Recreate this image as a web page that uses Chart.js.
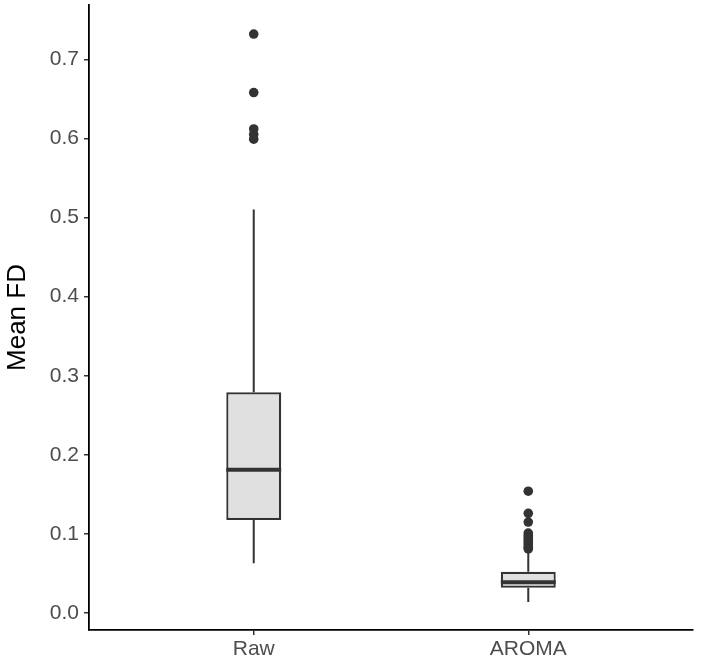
<!DOCTYPE html>
<html>
<head>
<meta charset="utf-8">
<script src="https://cdn.jsdelivr.net/npm/chart.js@4.4.1/dist/chart.umd.min.js"></script>
<style>
  html, body { margin: 0; padding: 0; background: #ffffff; }
  #wrap { width: 701px; height: 663px; }
</style>
</head>
<body>
<div id="wrap"><canvas id="c" width="701" height="663"></canvas></div>
<script>
// ---- data ----
const categories = ["Raw", "AROMA"];
const whiskerLow = [0.063, 0.014];
const q1 = [0.1175, 0.032];
const median = [0.181, 0.039];
const q3 = [0.279, 0.052];
const whiskerHigh = [0.510, 0.076];
const outliersRaw = [0.732, 0.658, 0.612, 0.605, 0.599];
const outliersAroma = [0.154, 0.126, 0.115, 0.101, 0.098, 0.095, 0.092, 0.089, 0.086, 0.083, 0.081];
const yTicks = [0.0, 0.1, 0.2, 0.3, 0.4, 0.5, 0.6, 0.7];

const font = "'Liberation Sans', Arial, Helvetica, sans-serif";
const dark = '#333333';

const boxData = categories.map((c, i) => ({ x: i + 1, y: [q1[i], q3[i]] }));
const outlierData = [
  ...outliersRaw.map(v => ({ x: 1, y: v })),
  ...outliersAroma.map(v => ({ x: 2, y: v }))
];

const boxPlugin = {
  id: 'boxExtras',
  afterDatasetsDraw(chart) {
    const ctx = chart.ctx;
    const xs = chart.scales.x, ys = chart.scales.y;
    ctx.save();
    ctx.strokeStyle = dark;
    categories.forEach((c, i) => {
      const xc = xs.getPixelForValue(i + 1);
      const half = (xs.getPixelForValue(i + 1.1) - xs.getPixelForValue(i + 0.9)) / 2;
      // whiskers
      ctx.lineWidth = 2;
      ctx.beginPath();
      ctx.moveTo(xc, ys.getPixelForValue(q3[i]));
      ctx.lineTo(xc, ys.getPixelForValue(whiskerHigh[i]));
      ctx.moveTo(xc, ys.getPixelForValue(q1[i]));
      ctx.lineTo(xc, ys.getPixelForValue(whiskerLow[i]));
      ctx.stroke();
      // median
      ctx.lineWidth = 4;
      ctx.beginPath();
      const my = ys.getPixelForValue(median[i]);
      ctx.moveTo(xc - half, my);
      ctx.lineTo(xc + half, my);
      ctx.stroke();
    });
    ctx.restore();
  }
};

new Chart(document.getElementById('c'), {
  type: 'bar',
  data: {
    datasets: [
      {
        type: 'bar',
        data: boxData,
        backgroundColor: '#e0e0e0',
        borderColor: dark,
        borderWidth: 2.2,
        borderSkipped: false,
        categoryPercentage: 1,
        barPercentage: 0.2,
        order: 2
      },
      {
        type: 'scatter',
        data: outlierData,
        backgroundColor: dark,
        borderColor: dark,
        pointRadius: 4.8,
        borderWidth: 0,
        order: 1
      }
    ]
  },
  options: {
    responsive: false,
    animation: false,
    devicePixelRatio: 1,
    layout: { padding: { top: 5, right: 8, left: 0, bottom: 0 } },
    plugins: { legend: { display: false }, tooltip: { enabled: false } },
    scales: {
      x: {
        type: 'linear',
        min: 0.4,
        max: 2.6,
        offset: false,
        afterBuildTicks(scale) { scale.ticks = categories.map((c, i) => ({ value: i + 1 })); },
        afterFit(scale) { scale.height = 33; scale.paddingLeft = 0; scale.paddingRight = 0; },
        ticks: {
          callback: (v) => categories[Math.round(v) - 1],
          color: '#4d4d4d',
          font: { family: font, size: 21 },
          padding: 2,
          maxRotation: 0,
          autoSkip: false
        },
        grid: { offset: false, drawOnChartArea: false, drawTicks: true, tickLength: 5, color: dark, lineWidth: 1.5 },
        border: { display: true, color: '#000000', width: 1.8 }
      },
      y: {
        type: 'linear',
        min: -0.0215,
        max: 0.7687,
        afterBuildTicks(scale) { scale.ticks = yTicks.map(v => ({ value: v })); },
        afterFit(scale) { scale.width = 89; scale.paddingTop = 0; scale.paddingBottom = 0; },
        ticks: {
          callback: (v) => Number(v).toFixed(1),
          color: '#4d4d4d',
          font: { family: font, size: 21 },
          padding: 5
        },
        grid: { drawOnChartArea: false, drawTicks: true, tickLength: 5, color: dark, lineWidth: 1.5 },
        border: { display: true, color: '#000000', width: 1.8 },
        title: {
          display: true,
          text: 'Mean FD',
          color: '#000000',
          font: { family: font, size: 26 },
          padding: { top: 2, bottom: 2 }
        }
      }
    }
  },
  plugins: [boxPlugin]
});
</script>
</body>
</html>
